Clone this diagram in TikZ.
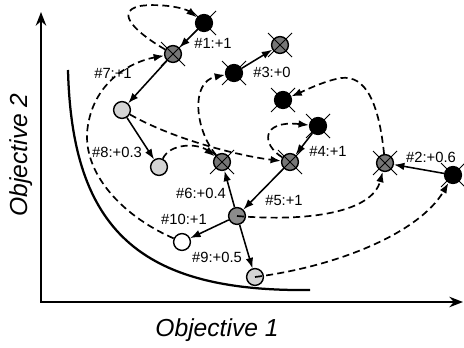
\documentclass[tikz,border=0pt]{standalone}
\usepackage{fontspec}
\setmainfont{Liberation Sans}
\usetikzlibrary{arrows.meta,positioning}
\definecolor{solgray}{RGB}{118,118,118}
\definecolor{palegray}{RGB}{212,212,212}

\begin{document}
\begin{tikzpicture}[
    x=0.025cm, y=-0.025cm,
    >={Latex[length=2.6mm,width=1.9mm]},
    sol/.style={circle, draw, line width=1pt, inner sep=0pt, minimum size=0.42cm},
    dom/.style={sol, fill=black},
    xsol/.style={sol, fill=solgray},
    newsol/.style={sol, fill=palegray},
    move/.style={->, line width=1.1pt},
    jump/.style={->, line width=1.2pt, dash pattern=on 5pt off 3pt},
    lbl/.style={font=\fontsize{10.5}{12}\selectfont},
    axlbl/.style={font=\fontsize{17.5}{20}\selectfont\itshape},
    axis/.style={<->, >={Stealth[length=3.4mm,width=2.6mm]}, line width=1.8pt},
]
\useasboundingbox (0,0) rectangle (464,347);

\coordinate (ytop) at (41,12);
\coordinate (xend) at (463,302);
\draw[axis] (ytop) |- (xend);
\node[axlbl] (xlab) at (217,330) {Objective 1};
\node[axlbl, rotate=90] (ylab) at (21,155) {Objective 2};

\draw[line width=1.6pt] (68,70) .. controls (72,230) and (140,292) .. (310,290);

\node[dom] (b1) at (204,23) {};
\node[dom] (b3) at (234,73) {};
\node[dom] (b5) at (283,100) {};
\node[dom] (b4) at (318,126) {};
\node[dom] (b2) at (453,175) {};
\node[xsol] (x7) at (173,54) {};
\node[xsol] (x3) at (280,45) {};
\node[xsol] (x4) at (290,162) {};
\node[xsol] (x2) at (385,163) {};
\node[xsol] (x6) at (222,162) {};
\node[sol, fill=solgray!85] (g5) at (237,216) {};
\node[newsol] (l7) at (122,110) {};
\node[newsol] (l8) at (159,167) {};
\node[newsol] (l9) at (255,277) {};
\node[sol, fill=white] (w10) at (182,242) {};

\foreach \n in {b1,b3,b5,b4,b2,x7,x3,x4,x2,x6}
    \draw[line width=0.6pt] (\n) ++(-12,-12) -- ++(24,24) (\n) ++(-12,12) -- ++(24,-24);

\draw[move] (b1) -- (x7);
\draw[move] (x7) -- (l7);
\draw[move] (l7) -- (l8);
\draw[move] (b3) -- (x3);
\draw[move] (b4) -- (x4);
\draw[move] (b2) -- (x2);
\draw[move] (x4) -- (g5);
\draw[move] (g5) -- (x6);
\draw[move] (g5) -- (w10);
\draw[move] (g5) -- (l9);

\draw[jump] (x7) .. controls (140,35) and (112,12) .. (140,6) .. controls (160,3) and (185,8) .. (b1);
\draw[jump] (w10) .. controls (120,215) and (80,170) .. (88,125) .. controls (95,82) and (130,62) .. (x7);
\draw[jump] (l7) .. controls (175,140) and (240,156) .. (x4);
\draw[jump] (l8) .. controls (170,143) and (198,143) .. (x6);
\draw[jump] (x6) .. controls (195,130) and (190,82) .. (b3);
\draw[jump] (x4) .. controls (262,145) and (260,120) .. (b4);
\draw[jump] (x2) .. controls (378,95) and (362,72) .. (336,79) .. controls (320,83) and (306,90) .. (b5);
\draw[jump] (g5.center) .. controls (310,222) and (372,212) .. (x2);
\draw[jump] (l9.center) .. controls (340,266) and (420,232) .. (b2);

\node[lbl] (t1) at (213,43) {\#1:+1};
\node[lbl] (t2) at (431,157) {\#2:+0.6};
\node[lbl] (t3) at (272,72) {\#3:+0};
\node[lbl] (t4) at (328,151) {\#4:+1};
\node[lbl] (t5) at (284,200) {\#5:+1};
\node[lbl] (t6) at (201,193) {\#6:+0.4};
\node[lbl] (t7) at (113,73) {\#7:+1};
\node[lbl] (t8) at (117,152) {\#8:+0.3};
\node[lbl] (t9) at (217,257) {\#9:+0.5};
\node[lbl] (t10) at (184,219) {\#10:+1};
\end{tikzpicture}
\end{document}
